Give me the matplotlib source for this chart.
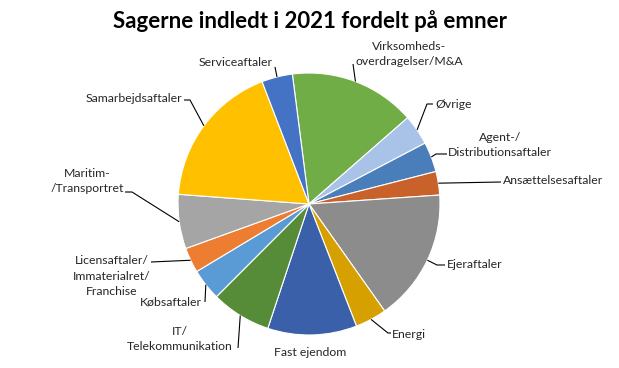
import matplotlib
matplotlib.use("Agg")
import matplotlib.pyplot as plt
import numpy as np

# ---- data (in drawing order clockwise) ----
categories = [
    "Virksomheds-\noverdragelser/M&A",
    "Øvrige",
    "Agent-/\nDistributionsaftaler",
    "Ansættelsesaftaler",
    "Ejeraftaler",
    "Energi",
    "Fast ejendom",
    "IT/\nTelekommunikation",
    "Købsaftaler",
    "Licensaftaler/\nImmaterialret/\nFranchise",
    "Maritim-\n/Transportret",
    "Samarbejdsaftaler",
    "Serviceaftaler",
]
values = [15.6, 3.75, 3.7, 2.9, 16.3, 3.9, 11.0, 7.4, 3.9, 3.1, 6.7, 18.0, 3.8]
colors = ["#70AD47", "#A9C3E8", "#4A7EBB", "#C8612A", "#8C8C8C", "#D6A000",
          "#3A60AA", "#568C38", "#5B9BD5", "#ED7D31", "#A5A5A5", "#FFC000",
          "#4472C4"]
title = "Sagerne indledt i 2021 fordelt på emner"

# ---- layout (pixel coordinates, y downward) ----
W, H = 619, 368
CX, CY, R = 309, 204, 131
# text anchor (x, y, ha), leader waypoints after the edge point
label_layout = [
    ((409, 54, "center"), [(353, 64)]),
    ((435, 104, "left"), [(427, 104), (433, 104)]),
    ((500, 145, "center"), [(436, 154), (447, 154)]),
    ((503, 180, "left"), [(501, 182)]),
    ((447, 264, "left"), [(437, 265), (445, 265)]),
    ((392, 334, "left"), [(388, 333), (391, 333)]),
    ((310, 352, "center"), None),
    ((180, 339, "center"), [(238, 348)]),
    ((202, 302, "right"), [(205, 302)]),
    ((112, 276, "center"), [(151, 262)]),
    ((87, 181, "center"), [(132, 192), (125, 192)]),
    ((182, 99, "right"), [(190, 100), (184, 100)]),
    ((273, 63, "right"), [(275, 67)]),
]

FONT = ["Lato", "DejaVu Sans"]

fig = plt.figure(figsize=(W / 100, H / 100), dpi=100)
ax = fig.add_axes([0, 0, 1, 1])
start_clock = -7.3  # degrees clockwise from 12 o'clock
wedges, _ = ax.pie(values, colors=colors, startangle=90 - start_clock,
                   counterclock=False, center=(CX, H - CY), radius=R,
                   wedgeprops=dict(edgecolor="white", linewidth=0.8))
ax.set_xlim(0, W)
ax.set_ylim(0, H)
ax.set_aspect("equal", adjustable="box")
ax.axis("off")

for w, cat, ((tx, ty, ha), pts) in zip(wedges, categories, label_layout):
    mid = np.deg2rad((w.theta1 + w.theta2) / 2)
    ex = CX + R * np.cos(mid)
    ey = (H - CY) + R * np.sin(mid)
    if pts:
        xs = [ex] + [p[0] for p in pts]
        ys = [ey] + [H - p[1] for p in pts]
        ax.plot(xs, ys, color="black", linewidth=0.8, solid_capstyle="butt")
    ax.text(tx, H - ty, cat, ha=ha, va="center", multialignment="center",
            fontsize=8.8, family=FONT, color="#262626", linespacing=1.5)

ax.text(310, H - 21, title, ha="center", va="center", fontsize=16,
        fontweight="bold", family=FONT, color="black")

fig.savefig("out.png", dpi=100)
